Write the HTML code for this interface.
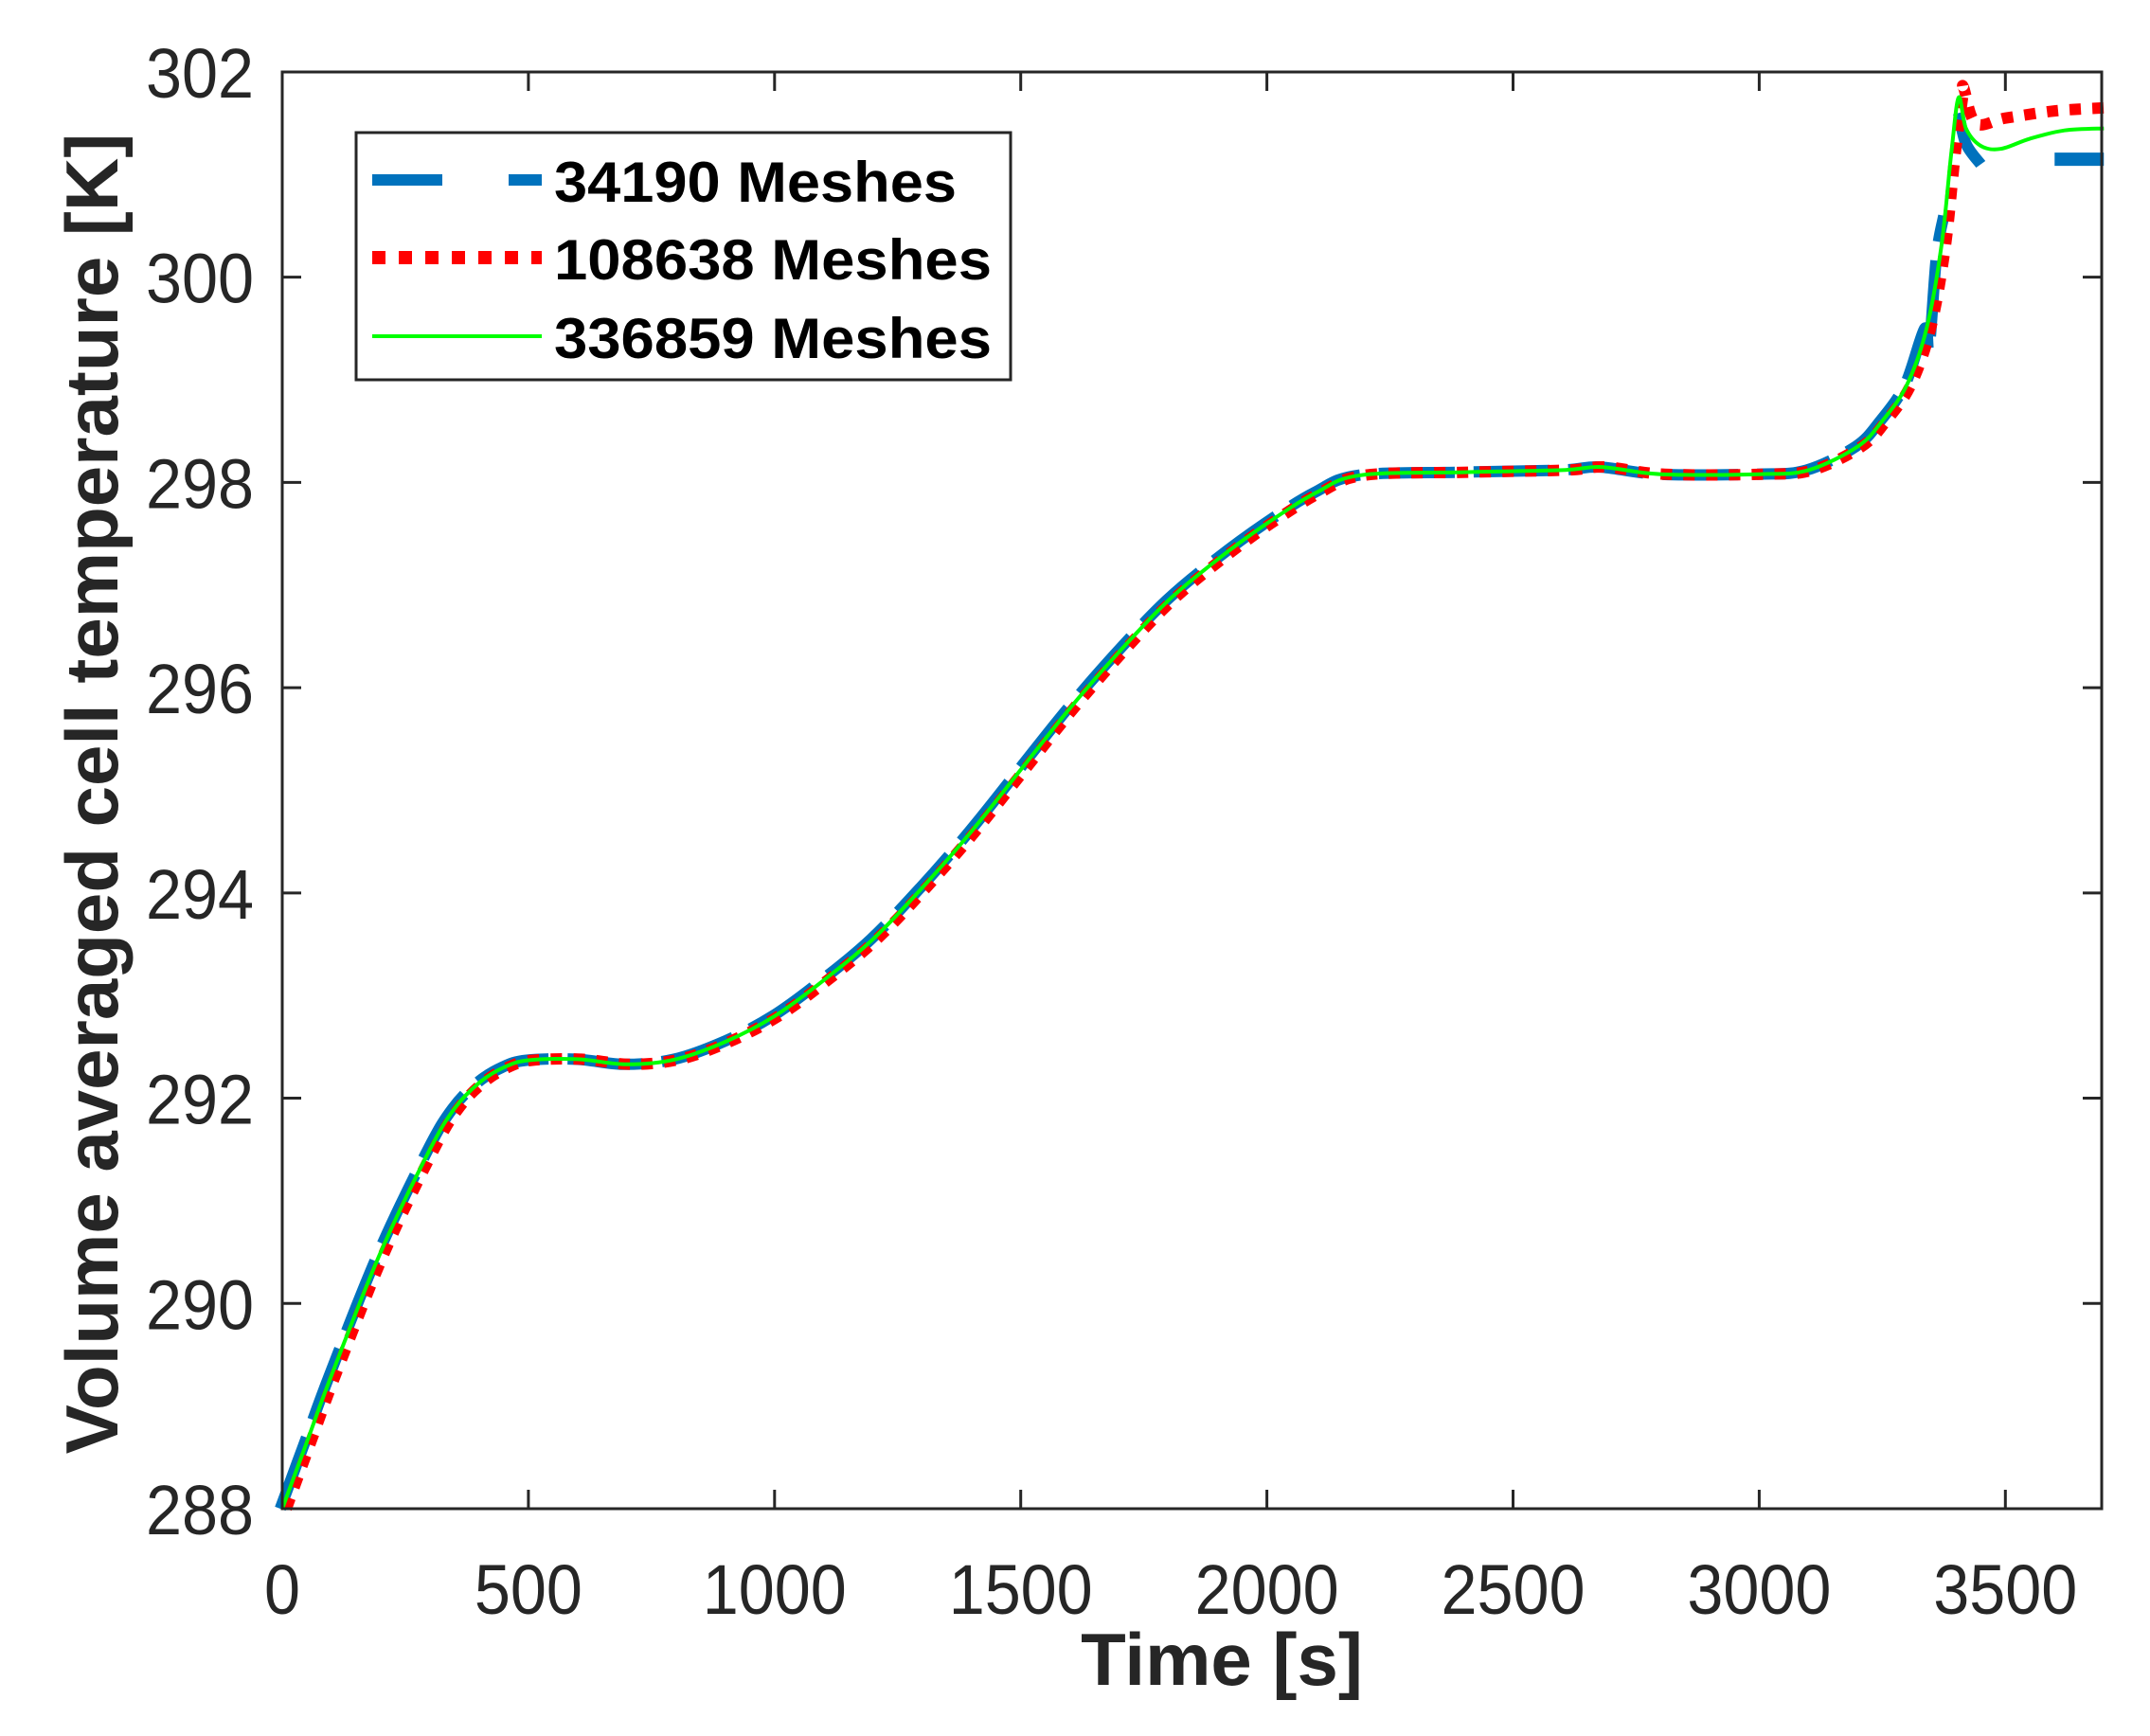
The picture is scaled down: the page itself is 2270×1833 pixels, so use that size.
<!DOCTYPE html>
<html><head><meta charset="utf-8"><style>
body{margin:0;background:#fff}
svg{display:block}
text{font-family:"Liberation Sans",Arial,sans-serif}
</style></head><body>
<svg id="s" width="2270" height="1833" viewBox="0 0 2270 1833" xmlns="http://www.w3.org/2000/svg">
<rect width="2270" height="1833" fill="#fff"/>
<g id="data"></g>
<rect x="298" y="76" width="1921" height="1517" fill="none" stroke="#262626" stroke-width="3"/>
<g id="ticks" stroke="#262626" stroke-width="3"></g>
<g id="labels" fill="#262626" font-size="74"></g>
<text x="1290" y="1779" font-size="78" font-weight="bold" fill="#262626" text-anchor="middle">Time [s]</text>
<text transform="translate(124,838) rotate(-90)" font-size="78" font-weight="bold" fill="#262626" text-anchor="middle">Volume averaged cell temperature [K]</text>
<rect x="376" y="140" width="691" height="261" fill="#fff" stroke="#262626" stroke-width="3"/>
<line x1="393" y1="190" x2="572" y2="190" stroke="#0072BD" stroke-width="12" stroke-dasharray="74 70 40"/>
<line x1="393" y1="272" x2="572" y2="272" stroke="#FF0000" stroke-width="14" stroke-dasharray="14 14"/>
<line x1="393" y1="355" x2="572" y2="355" stroke="#00FF00" stroke-width="4"/>
<g font-size="60" font-weight="bold" fill="#000">
<text x="585" y="213" textLength="425" lengthAdjust="spacingAndGlyphs">34190 Meshes</text>
<text x="585" y="295" textLength="462" lengthAdjust="spacingAndGlyphs">108638 Meshes</text>
<text x="585" y="378" textLength="462" lengthAdjust="spacingAndGlyphs">336859 Meshes</text>
</g>
</svg>
<script>
const X=t=>298+t*0.5198, Y=v=>1593-(v-288)*108.36;
const ns="http://www.w3.org/2000/svg";
function el(p,tag,a){const e=document.createElementNS(ns,tag);for(const k in a)e.setAttribute(k,a[k]);p.appendChild(e);return e;}
function smooth(a){const P=a.map(p=>[X(p[0]),Y(p[1])]);let d="M"+P[0][0].toFixed(1)+","+P[0][1].toFixed(1);
 for(let i=0;i<P.length-1;i++){const p0=P[Math.max(0,i-1)],p1=P[i],p2=P[i+1],p3=P[Math.min(P.length-1,i+2)];
  const c1=[p1[0]+(p2[0]-p0[0])/6,p1[1]+(p2[1]-p0[1])/6],c2=[p2[0]-(p3[0]-p1[0])/6,p2[1]-(p3[1]-p1[1])/6];
  d+=" C"+c1.map(v=>v.toFixed(1))+" "+c2.map(v=>v.toFixed(1))+" "+p2.map(v=>v.toFixed(1));}
 return d;}
const base=[[0,288],[50,288.65],[100,289.3],[200,290.5],[300,291.5],[350,291.9],[400,292.15],[450,292.3],[500,292.37],[600,292.38],[700,292.33],[800,292.38],[900,292.55],[1000,292.8],[1100,293.15],[1200,293.55],[1300,294.05],[1400,294.6],[1500,295.2],[1600,295.8],[1700,296.35],[1800,296.85],[1900,297.25],[2000,297.6],[2100,297.9],[2190,298.07],[2400,298.1],[2600,298.12],[2680,298.15],[2800,298.08],[3000,298.08],[3100,298.12],[3200,298.35],[3250,298.6],[3300,298.95],[3340,299.5],[3370,300.3],[3390,301.2],[3405,301.75]];
const green=base.concat([[3420,301.45],[3450,301.28],[3490,301.25],[3550,301.35],[3620,301.43],[3700,301.45]]);
const red=base.map(p=>[p[0]+8,p[1]]).concat([[3415,301.85],[3440,301.5],[3500,301.55],[3600,301.62],[3700,301.65]]);
const blue=base.slice(0,36).map(p=>[p[0]-4,p[1]]).concat([[3345,299.3],[3360,300.2],[3375,300.6]]);
const d=document.getElementById("data");
el(d,"path",{d:smooth(blue),fill:"none",stroke:"#0072BD","stroke-width":12,"stroke-dasharray":"80 20"});
el(d,"path",{d:smooth([[3405,301.6],[3420,301.3],[3450,301.1]]),fill:"none",stroke:"#0072BD","stroke-width":12});
el(d,"line",{x1:X(3600),y1:Y(301.15),x2:X(3700),y2:Y(301.15),stroke:"#0072BD","stroke-width":14});
el(d,"path",{d:smooth(red),fill:"none",stroke:"#FF0000","stroke-width":12,"stroke-dasharray":"12 12"});
el(d,"path",{d:smooth(green),fill:"none",stroke:"#00FF00","stroke-width":4});
const tk=document.getElementById("ticks"), lb=document.getElementById("labels");
for(let t=0;t<=3500;t+=500){const x=X(t);
 if(t>0){el(tk,"line",{x1:x,y1:1593,x2:x,y2:1573});el(tk,"line",{x1:x,y1:76,x2:x,y2:96});}
 const w=String(t).length*38;
 el(lb,"text",{x:x,y:1704,"text-anchor":"middle",textLength:w,lengthAdjust:"spacingAndGlyphs"}).textContent=t;}
for(let v=288;v<=302;v+=2){const y=Y(v);
 if(v>288&&v<302){el(tk,"line",{x1:298,y1:y,x2:318,y2:y});el(tk,"line",{x1:2219,y1:y,x2:2199,y2:y});}
 el(lb,"text",{x:268,y:y+27,"text-anchor":"end",textLength:114,lengthAdjust:"spacingAndGlyphs"}).textContent=v;}
</script>
</body></html>
